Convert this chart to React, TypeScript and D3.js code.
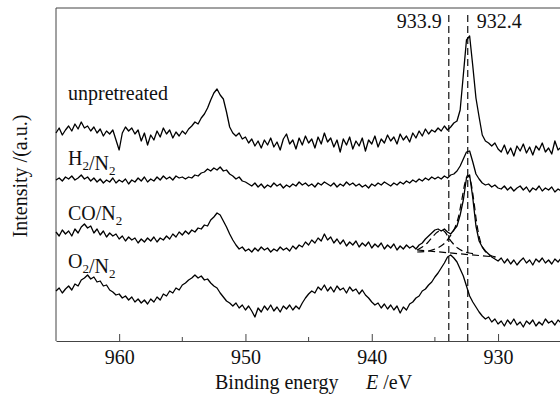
import React, { useRef, useEffect } from "react";
import * as d3 from "d3";

// binding energy grid of the scan, 965 -> 925 eV, 0.25 eV step
const energy = d3.range(965, 924.875, -0.25);

// intensities (a.u., offset stacked as in the figure)
const unpretreated = [
  207, 212, 205, 210, 214, 209, 216, 211, 218, 212, 214, 209, 213, 207, 211, 204, 209, 206, 210, 200,
  190, 207, 213, 209, 212, 206, 210, 199, 207, 195, 205, 200, 209, 203, 212, 206, 210, 202, 208, 204,
  209, 206, 211, 214, 218, 216, 222, 226, 232, 240, 247, 251, 245, 241, 228, 213, 207, 204, 207, 201,
  203, 197, 201, 194, 199, 192, 200, 195, 202, 193, 198, 190, 201, 206, 196, 200, 191, 202, 195, 204,
  197, 201, 192, 203, 196, 207, 198, 202, 193, 200, 188, 201, 195, 203, 191, 199, 194, 202, 189, 200,
  196, 204, 193, 201, 197, 205, 199, 203, 196, 206, 200, 204, 198, 207, 202, 209, 204, 211, 206, 210,
  208, 212, 209, 214, 210, 213, 217, 219, 230, 265, 300, 304, 274, 242, 223, 205, 199, 197, 194, 197,
  191, 188, 195, 186, 192, 184, 194, 189, 196, 187, 193, 185, 194, 190, 197, 188, 192, 186, 199, 190,
  193,
];
const h2n2 = [
  160, 162, 159, 163, 161, 164, 160, 162, 165, 161, 163, 159, 162, 158, 161, 157, 160, 158, 162, 157,
  160, 158, 161, 156, 160, 158, 162, 159, 163, 158, 161, 159, 163, 160, 164, 161, 163, 160, 164, 162,
  163, 161, 163, 162, 165, 164, 167, 168, 171, 169, 172, 170, 173, 169, 170, 166, 164, 161, 163, 159,
  158, 156, 154, 157, 153, 156, 152, 155, 153, 157, 154, 156, 152, 155, 153, 156, 154, 158, 155, 157,
  154, 156, 153, 157, 155, 158, 156, 154, 157, 153, 156, 154, 158, 155, 157, 154, 156, 153, 155, 152,
  156, 154, 157, 155, 158, 156, 154, 157, 155, 158, 156, 159, 157, 160, 158, 161, 159, 162, 160, 163,
  161, 163, 161, 164, 162, 165, 166, 169, 174, 181, 188, 189, 178, 166, 161, 157, 155, 156, 153, 155,
  152, 151, 154, 150, 153, 149, 152, 154, 150, 153, 148, 152, 150, 154, 149, 152, 150, 153, 148, 151,
  149,
];
const con2 = [
  108, 104, 110, 106, 109, 104, 111, 107, 113, 116, 112, 114, 107, 111, 105, 109, 103, 107, 104, 106,
  101, 104, 99, 103, 100, 102, 97, 101, 98, 102, 99, 103, 98, 102, 100, 104, 101, 106, 103, 108,
  105, 109, 106, 110, 108, 112, 111, 115, 114, 120, 123, 127, 125, 119, 113, 106, 100, 95, 91, 93,
  89, 91, 88, 92, 89, 93, 90, 92, 88, 91, 89, 93, 90, 92, 89, 94, 91, 95, 93, 98,
  95, 100, 97, 102, 99, 106, 100, 103, 97, 101, 96, 100, 94, 98, 95, 99, 93, 97, 94, 98,
  92, 96, 93, 97, 91, 95, 92, 96, 90, 94, 91, 95, 92, 94, 91, 95, 97, 101, 104, 107,
  110, 111, 109, 111, 108, 106, 110, 114, 125, 140, 162, 165, 142, 114, 99, 93, 89, 86, 83, 81,
  79, 82, 77, 81, 76, 80, 75, 79, 82, 77, 80, 75, 81, 78, 82, 77, 80, 76, 81, 78,
  82,
];
const o2n2 = [
  49, 52, 47, 51, 54, 50, 56, 54, 60, 62, 65, 61, 63, 58, 59, 54, 55, 50, 48, 45,
  46, 42, 44, 40, 43, 38, 41, 37, 40, 36, 41, 38, 43, 40, 46, 44, 49, 47, 52, 50,
  55, 57, 60, 62, 65, 62, 64, 60, 61, 57, 54, 52, 47, 43, 39, 37, 34, 37, 32, 35,
  30, 34, 29, 23, 32, 28, 34, 30, 35, 29, 33, 28, 34, 31, 35, 30, 34, 31, 37, 42,
  46, 49, 47, 53, 50, 55, 49, 53, 48, 54, 50, 52, 47, 53, 49, 51, 46, 50, 45, 42,
  38, 35, 37, 32, 36, 31, 35, 30, 34, 27, 33, 30, 36, 38, 42, 44, 49, 51, 55, 58,
  63, 67, 72, 77, 83, 85, 82, 78, 71, 64, 54, 44, 38, 33, 28, 24, 21, 23, 18, 21,
  16, 19, 14, 20, 16, 21, 15, 18, 13, 19, 16, 20, 14, 18, 15, 21, 17, 19, 15, 20,
  17,
];

// CO/N2 peak fit (dashed): background and the two Cu 2p3/2 components
const bgE = [936.4, 930.2];
const bgI = [90, 83];
const fit1E = [936.4, 936.0, 935.6, 935.2, 934.8, 934.5, 934.2, 933.9, 933.6, 933.2, 932.8, 932.3, 931.8];
const fit1I = [90, 93, 97, 103, 108, 110, 108, 102, 97, 92, 89, 87, 86];
const fit2E = [936.4, 935.5, 934.8, 934.3, 933.9, 933.5, 933.2, 932.9, 932.6, 932.4, 932.2, 931.95, 931.7, 931.45, 931.2, 930.8, 930.2];
const fit2I = [88, 89, 92, 96, 102, 110, 120, 138, 158, 165, 160, 142, 118, 101, 92, 86, 83];

const seriesLabels = ["unpretreated", "H_2/N_2", "CO/N_2", "O_2/N_2"];
const labelBaseline = [100, 165, 220, 268];

const peakLines = [933.9, 932.4];
const majorTicks = [960, 950, 940, 930];
const minorTicks = [955, 945, 935];

const FONT = "'Liberation Serif', 'Times New Roman', Times, 'DejaVu Serif', serif";

const Chart = () => {
  const ref = useRef(null);

  useEffect(() => {
    const svg = d3.select(ref.current);
    svg.selectAll("*").remove();

    const left = 56, right = 561.2, top = 8, bottom = 341;

    const x = d3.scaleLinear().domain([965, 925]).range([left, right]);
    const y = d3.scaleLinear().domain([0, 332]).range([340, 8]);

    // frame: top and left lines
    svg.append("line").attr("x1", left).attr("x2", 560).attr("y1", top).attr("y2", top)
      .attr("stroke", "#444").attr("stroke-width", 1);
    svg.append("line").attr("x1", left).attr("x2", left).attr("y1", top).attr("y2", bottom)
      .attr("stroke", "#444").attr("stroke-width", 1);

    // bottom axis, ticks pointing inward
    const ax = svg.append("g")
      .attr("transform", "translate(0," + bottom + ")")
      .call(d3.axisBottom(x).tickValues(majorTicks).tickSizeInner(-7).tickSizeOuter(0).tickPadding(9).tickFormat(d3.format("d")));
    ax.attr("font-family", null).attr("font-size", null);
    ax.select(".domain").attr("stroke", "#444");
    ax.selectAll(".tick line").attr("stroke", "#444");
    ax.selectAll("text").attr("fill", "#111");

    svg.append("g").selectAll("line").data(minorTicks).enter().append("line")
      .attr("x1", d => x(d)).attr("x2", d => x(d))
      .attr("y1", bottom).attr("y2", bottom - 4)
      .attr("stroke", "#444");

    // dashed reference lines
    svg.append("g").selectAll("line").data(peakLines).enter().append("line")
      .attr("x1", d => x(d)).attr("x2", d => x(d))
      .attr("y1", 15).attr("y2", bottom)
      .attr("stroke", "#111").attr("stroke-width", 1.2).attr("stroke-dasharray", "7,4");

    svg.append("text").attr("x", x(peakLines[0]) - 7).attr("y", 28)
      .attr("text-anchor", "end").attr("fill", "#111")
      .text(d3.format(".1f")(peakLines[0]));
    svg.append("text").attr("x", x(peakLines[1]) + 9).attr("y", 28)
      .attr("fill", "#111")
      .text(d3.format(".1f")(peakLines[1]));

    // spectra
    const line = d3.line().x(d => x(d[0])).y(d => y(d[1]));
    [unpretreated, h2n2, con2, o2n2].forEach(vals => {
      svg.append("path")
        .datum(energy.map((e, i) => [e, vals[i]]))
        .attr("d", line)
        .attr("fill", "none").attr("stroke", "#000").attr("stroke-width", 1.3)
        .attr("stroke-linejoin", "round");
    });

    // fitted curves
    const smooth = d3.line().curve(d3.curveCatmullRom).x(d => x(d[0])).y(d => y(d[1]));
    [[bgE, bgI], [fit1E, fit1I], [fit2E, fit2I]].forEach(([es, is]) => {
      svg.append("path")
        .datum(es.map((e, i) => [e, is[i]]))
        .attr("d", smooth)
        .attr("fill", "none").attr("stroke", "#000").attr("stroke-width", 1.2)
        .attr("stroke-dasharray", "7,4");
    });

    // series labels with subscripts
    seriesLabels.forEach((lab, k) => {
      const t = svg.append("text").attr("x", 68).attr("y", labelBaseline[k]).attr("fill", "#111");
      lab.split(/(_\d)/).filter(s => s.length).forEach(part => {
        if (part.startsWith("_")) {
          t.append("tspan").attr("dy", 5).style("font-size", "13px").text(part.slice(1));
          t.append("tspan").attr("dy", -5).text("");
        } else {
          t.append("tspan").text(part);
        }
      });
    });

    // axis titles
    svg.append("text")
      .attr("transform", "translate(27,176) rotate(-90)")
      .attr("text-anchor", "middle")
      .attr("fill", "#111")
      .text("Intensity /(a.u.)");

    const xt = svg.append("text").attr("x", 215).attr("y", 389).attr("fill", "#111");
    xt.append("tspan").text("Binding energy");
    xt.append("tspan").attr("x", 366).style("font-style", "italic").text("E");
    xt.append("tspan").text(" /eV");
  }, []);

  return (
    <svg ref={ref} width={560} height={394}
      style={{ position: "absolute", left: 0, top: 0, background: "#fff", display: "block", fontFamily: FONT, fontSize: "20px" }} />
  );
};

export default function App() {
  return <Chart />;
}
